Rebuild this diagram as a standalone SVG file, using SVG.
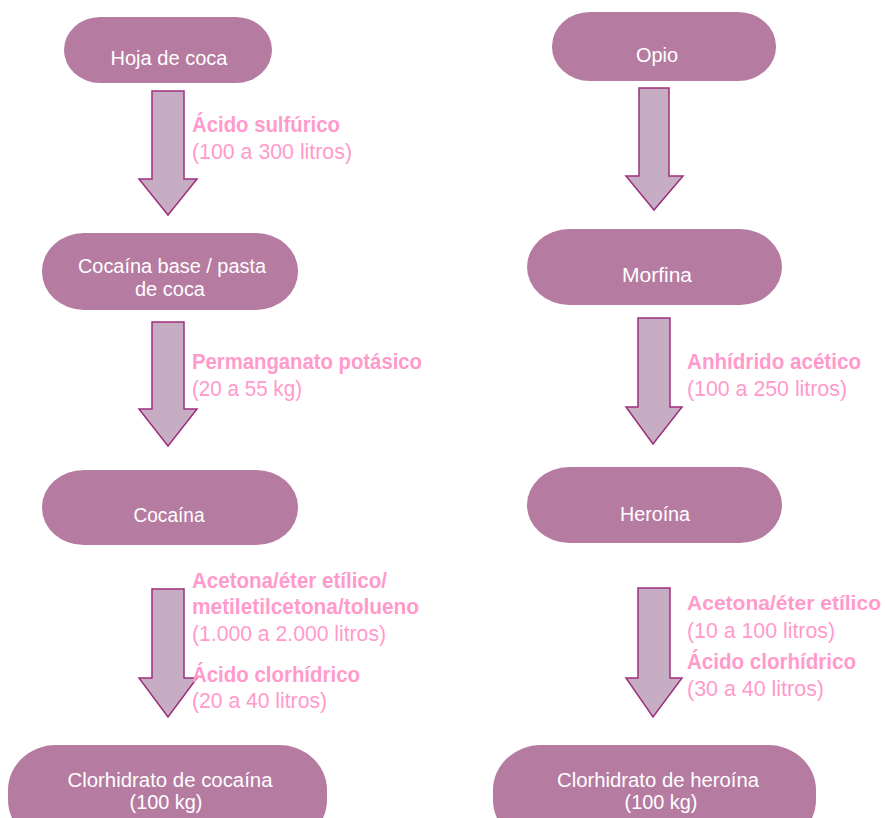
<svg xmlns="http://www.w3.org/2000/svg" width="885" height="818" viewBox="0 0 885 818">
<style>
.node{fill:#b67ba1}
.nt{font-family:"Liberation Sans",Arial,sans-serif;font-size:19.5px;fill:#ffffff;text-anchor:middle}
.arrow{fill:#c7adc3;stroke:#9e2f7e;stroke-width:1.5;stroke-linejoin:miter}
.lb{font-family:"Liberation Sans",Arial,sans-serif;font-size:22px;font-weight:bold;fill:#ff9acb}
.lr{font-family:"Liberation Sans",Arial,sans-serif;font-size:22px;fill:#ff9acb}
</style>
<rect width="885" height="818" fill="#ffffff"/>
<g id="connectors">
<path class="arrow" d="M152,91 H184 V179 H197 L168,215 L139,179 H152 Z"/>
<path class="arrow" d="M152,322 H184 V409 H197 L168,446 L139,409 H152 Z"/>
<path class="arrow" d="M152,589 H184 V678 H197 L168,717 L139,678 H152 Z"/>
<path class="arrow" d="M639,88 H669 V176 H683 L654,210 L626,176 H639 Z"/>
<path class="arrow" d="M638,318 H670 V407 H682 L653,444 L626,407 H638 Z"/>
<path class="arrow" d="M638,588 H670 V678 H682 L653,717 L626,678 H638 Z"/>
</g>
<g id="labels">
<text class="lb" x="192" y="132" textLength="148" lengthAdjust="spacingAndGlyphs">Ácido sulfúrico</text>
<text class="lr" x="192" y="159" textLength="160" lengthAdjust="spacingAndGlyphs">(100 a 300 litros)</text>
<text class="lb" x="192" y="369" textLength="230" lengthAdjust="spacingAndGlyphs">Permanganato potásico</text>
<text class="lr" x="192" y="396" textLength="110" lengthAdjust="spacingAndGlyphs">(20 a 55 kg)</text>
<text class="lb" x="192" y="588" textLength="195" lengthAdjust="spacingAndGlyphs">Acetona/éter etílico/</text>
<text class="lb" x="192" y="614" textLength="227" lengthAdjust="spacingAndGlyphs">metiletilcetona/tolueno</text>
<text class="lr" x="192" y="641" textLength="194" lengthAdjust="spacingAndGlyphs">(1.000 a 2.000 litros)</text>
<text class="lb" x="192" y="682" textLength="168" lengthAdjust="spacingAndGlyphs">Ácido clorhídrico</text>
<text class="lr" x="192" y="708" textLength="135" lengthAdjust="spacingAndGlyphs">(20 a 40 litros)</text>
<text class="lb" x="687" y="369" textLength="174" lengthAdjust="spacingAndGlyphs">Anhídrido acético</text>
<text class="lr" x="687" y="396" textLength="160" lengthAdjust="spacingAndGlyphs">(100 a 250 litros)</text>
<text class="lb" x="687" y="610" style="font-size:21px" textLength="194" lengthAdjust="spacingAndGlyphs">Acetona/éter etílico</text>
<text class="lr" x="687" y="638" textLength="148" lengthAdjust="spacingAndGlyphs">(10 a 100 litros)</text>
<text class="lb" x="687" y="669" textLength="169" lengthAdjust="spacingAndGlyphs">Ácido clorhídrico</text>
<text class="lr" x="687" y="696" textLength="137" lengthAdjust="spacingAndGlyphs">(30 a 40 litros)</text>
</g>
<g id="hoja">
<rect class="node" x="64" y="17" width="208" height="66" rx="36" ry="33"/>
<text class="nt" x="169" y="65" textLength="117" lengthAdjust="spacingAndGlyphs">Hoja de coca</text>
</g>
<g id="cocaina-base">
<rect class="node" x="42" y="233" width="256" height="77" rx="42" ry="38"/>
<text class="nt" x="172" y="273" textLength="188" lengthAdjust="spacingAndGlyphs">Cocaína base / pasta</text>
<text class="nt" x="170" y="296" textLength="70" lengthAdjust="spacingAndGlyphs">de coca</text>
</g>
<g id="cocaina">
<rect class="node" x="42" y="470" width="256" height="75" rx="42" ry="37"/>
<text class="nt" x="169" y="522" textLength="71" lengthAdjust="spacingAndGlyphs">Cocaína</text>
</g>
<g id="clorhidrato-cocaina">
<rect class="node" x="8" y="745" width="319" height="100" rx="48" ry="45"/>
<text class="nt" x="170" y="787" textLength="205" lengthAdjust="spacingAndGlyphs">Clorhidrato de cocaína</text>
<text class="nt" x="166" y="809" textLength="73" lengthAdjust="spacingAndGlyphs">(100 kg)</text>
</g>
<g id="opio">
<rect class="node" x="552" y="12" width="224" height="69" rx="38" ry="34"/>
<text class="nt" x="657" y="62" textLength="42" lengthAdjust="spacingAndGlyphs">Opio</text>
</g>
<g id="morfina">
<rect class="node" x="527" y="229" width="255" height="76" rx="42" ry="38"/>
<text class="nt" x="657" y="282" textLength="70" lengthAdjust="spacingAndGlyphs">Morfina</text>
</g>
<g id="heroina">
<rect class="node" x="527" y="467" width="255" height="76" rx="42" ry="38"/>
<text class="nt" x="655" y="521" textLength="70" lengthAdjust="spacingAndGlyphs">Heroína</text>
</g>
<g id="clorhidrato-heroina">
<rect class="node" x="493" y="745" width="323" height="100" rx="48" ry="45"/>
<text class="nt" x="658" y="787" textLength="202" lengthAdjust="spacingAndGlyphs">Clorhidrato de heroína</text>
<text class="nt" x="661" y="809" textLength="73" lengthAdjust="spacingAndGlyphs">(100 kg)</text>
</g>
</svg>
